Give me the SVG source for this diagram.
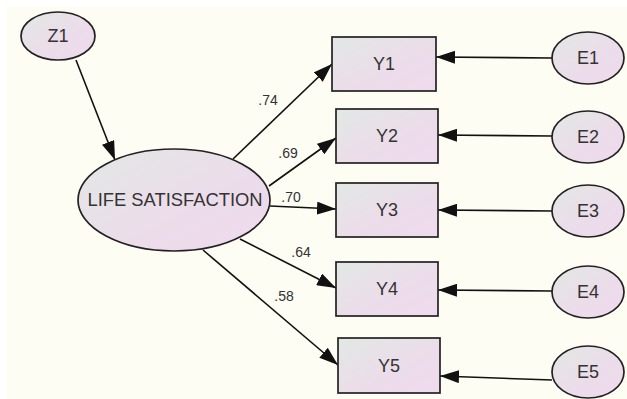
<svg xmlns="http://www.w3.org/2000/svg" width="627" height="399" viewBox="0 0 627 399">
<defs>
<linearGradient id="g" x1="0" y1="0" x2="1" y2="1">
<stop offset="0" stop-color="#e2e8e5"/>
<stop offset="0.6" stop-color="#ecdcea"/>
<stop offset="1" stop-color="#efdaee"/>
</linearGradient>
<marker id="ah" markerUnits="userSpaceOnUse" markerWidth="20" markerHeight="13" refX="19" refY="6.5" orient="auto">
<path d="M0,0 L19,6.5 L0,13 Z" fill="#111"/>
</marker>
<style>
.n{fill:url(#g);stroke:#222;stroke-width:1.7}
.t{font-family:"Liberation Sans",Arial,sans-serif;font-size:18px;fill:#333;text-anchor:middle;dominant-baseline:central}
.l{font-family:"Liberation Sans",Arial,sans-serif;font-size:14px;fill:#333;text-anchor:middle;dominant-baseline:central}
.c{stroke:#111;stroke-width:1.6;fill:none;marker-end:url(#ah)}
</style>
</defs>
<rect x="0" y="0" width="627" height="399" fill="#ffffff"/>
<rect x="6" y="7" width="621" height="392" fill="#fdfdf4"/>
<g id="connectors">
<line class="c" x1="76" y1="60" x2="115" y2="160"/>
<line class="c" x1="233" y1="159" x2="332" y2="64"/>
<line class="c" x1="269" y1="186" x2="336" y2="138"/>
<line class="c" x1="270" y1="206" x2="336" y2="209"/>
<line class="c" x1="240" y1="239" x2="336" y2="288"/>
<line class="c" x1="203" y1="250" x2="338" y2="365"/>
<line class="c" x1="552" y1="58" x2="436" y2="57"/>
<line class="c" x1="552" y1="136" x2="438" y2="135"/>
<line class="c" x1="552" y1="211" x2="438" y2="210"/>
<line class="c" x1="552" y1="291" x2="438" y2="290"/>
<line class="c" x1="552" y1="380" x2="440" y2="376"/>
</g>
<g id="labels">
<text class="l" x="268" y="100">.74</text>
<text class="l" x="288" y="153">.69</text>
<text class="l" x="291" y="197">.70</text>
<text class="l" x="301" y="252">.64</text>
<text class="l" x="284" y="296">.58</text>
</g>
<g id="Z1"><ellipse class="n" cx="58" cy="36" rx="37" ry="24"/><text class="t" x="58" y="36">Z1</text></g>
<g id="LS"><ellipse class="n" cx="174" cy="200" rx="96" ry="51"/><text class="t" x="175" y="200" textLength="175" lengthAdjust="spacingAndGlyphs">LIFE SATISFACTION</text></g>
<g id="Y1"><rect class="n" x="332" y="37" width="104" height="54"/><text class="t" x="384" y="64">Y1</text></g>
<g id="Y2"><rect class="n" x="336" y="109" width="102" height="54"/><text class="t" x="387" y="136">Y2</text></g>
<g id="Y3"><rect class="n" x="336" y="183" width="102" height="54"/><text class="t" x="387" y="210">Y3</text></g>
<g id="Y4"><rect class="n" x="336" y="262" width="102" height="54"/><text class="t" x="387" y="289">Y4</text></g>
<g id="Y5"><rect class="n" x="338" y="338" width="102" height="55"/><text class="t" x="389" y="366">Y5</text></g>
<g id="E1"><ellipse class="n" cx="588" cy="58" rx="36" ry="26"/><text class="t" x="588" y="58">E1</text></g>
<g id="E2"><ellipse class="n" cx="588" cy="137" rx="36" ry="26"/><text class="t" x="588" y="137">E2</text></g>
<g id="E3"><ellipse class="n" cx="588" cy="211" rx="36" ry="26"/><text class="t" x="588" y="211">E3</text></g>
<g id="E4"><ellipse class="n" cx="588" cy="292" rx="36" ry="26"/><text class="t" x="588" y="292">E4</text></g>
<g id="E5"><ellipse class="n" cx="588" cy="372" rx="36" ry="26"/><text class="t" x="588" y="372">E5</text></g>
</svg>
